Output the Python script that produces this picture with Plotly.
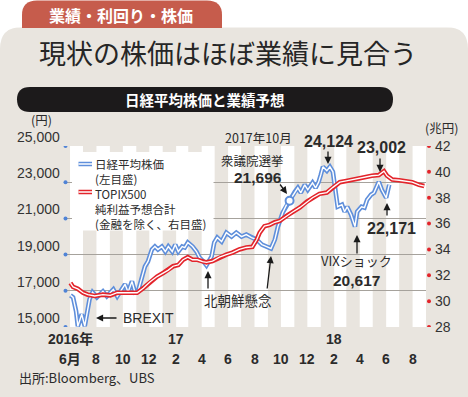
import plotly.graph_objects as go
import pandas as pd

# ---------------- data ----------------
nikkei_dates = [
    "2016-06-02", "2016-06-08", "2016-06-15", "2016-06-19", "2016-06-28", "2016-07-05",
    "2016-07-16", "2016-07-23", "2016-08-02", "2016-08-16", "2016-08-25", "2016-09-09",
    "2016-09-18", "2016-09-25", "2016-10-06", "2016-10-13", "2016-10-22", "2016-10-29",
    "2016-11-05", "2016-11-14", "2016-11-21", "2016-11-28", "2016-12-07", "2016-12-14",
    "2016-12-21", "2016-12-30", "2017-01-07", "2017-01-14", "2017-01-23", "2017-01-30",
    "2017-02-06", "2017-02-15", "2017-02-21", "2017-02-28", "2017-03-11", "2017-03-20",
    "2017-03-27", "2017-04-05", "2017-04-12", "2017-04-24", "2017-04-30", "2017-05-07",
    "2017-05-17", "2017-05-28", "2017-06-09", "2017-06-20", "2017-07-02", "2017-07-13",
    "2017-07-25", "2017-08-06", "2017-08-18", "2017-08-29", "2017-09-08", "2017-09-17",
    "2017-09-24", "2017-10-05", "2017-10-14", "2017-10-21", "2017-11-02", "2017-11-09",
    "2017-11-16", "2017-11-25", "2017-12-02", "2017-12-13", "2017-12-20", "2017-12-27",
    "2018-01-01", "2018-01-06", "2018-01-15", "2018-01-22", "2018-01-29", "2018-02-03",
    "2018-02-07", "2018-02-09", "2018-02-19", "2018-02-25", "2018-03-03", "2018-03-12",
    "2018-03-21", "2018-03-26", "2018-04-05", "2018-04-12", "2018-04-18", "2018-04-27",
    "2018-05-04", "2018-05-15", "2018-05-22", "2018-06-01", "2018-06-08",
]
nikkei_vals = [
    16750, 16640, 15870, 15045, 15705, 15045,
    16530, 16915, 16640, 16970, 16695, 17080,
    16695, 16970, 17355, 16915, 17520, 16915,
    16970, 17740, 18345, 18620, 19280, 19445,
    19280, 19445, 19170, 19445, 19170, 19555,
    19170, 19445, 19390, 19665, 19445, 19170,
    18840, 18620, 18400, 18895, 19665, 19940,
    19720, 20215, 19995, 20215, 19995, 20105,
    19940, 19830, 19555, 19445, 19335, 19830,
    20545, 21315, 21755, 21975, 22470, 22690,
    22415, 22855, 22580, 22965, 22690, 23000,
    23400, 23850, 23630, 23850, 23575, 22745,
    22140, 21645, 21755, 21370, 21645, 21205,
    20545, 21370, 21645, 21590, 22030, 22305,
    22415, 23020, 22580, 22140, 22855,
]

profit_dates = [
    "2016-06-02", "2016-06-08", "2016-06-19", "2016-07-01", "2016-07-12", "2016-07-28",
    "2016-08-16", "2016-09-02", "2016-09-18", "2016-10-06", "2016-10-17", "2016-11-03",
    "2016-11-17", "2016-12-03", "2016-12-19", "2017-01-03", "2017-01-14", "2017-01-25",
    "2017-02-06", "2017-02-17", "2017-02-28", "2017-03-11", "2017-03-22", "2017-04-03",
    "2017-04-12", "2017-04-26", "2017-05-12", "2017-05-28", "2017-06-11", "2017-06-27",
    "2017-07-13", "2017-07-27", "2017-08-06", "2017-08-13", "2017-08-24", "2017-09-05",
    "2017-09-17", "2017-09-28", "2017-10-14", "2017-10-28", "2017-11-14", "2017-11-30",
    "2017-12-13", "2017-12-29", "2018-01-15", "2018-01-29", "2018-02-14", "2018-03-01",
    "2018-03-14", "2018-03-30", "2018-04-16", "2018-04-29", "2018-05-15", "2018-05-27",
    "2018-06-03", "2018-06-15", "2018-07-01", "2018-07-17", "2018-07-31", "2018-08-16",
    "2018-08-28",
]
profit_vals = [
    31.4, 31.1, 30.95, 30.65, 30.5, 30.4,
    30.5, 30.45, 30.65, 30.65, 30.7, 30.65,
    31.0, 31.5, 31.9, 32.2, 32.4, 32.7,
    32.8, 33.2, 33.4, 33.2, 33.2, 33.05,
    33.0, 33.1, 33.4, 33.6, 33.75, 34.0,
    34.15, 34.2, 34.75, 35.3, 35.8, 35.9,
    36.1, 36.2, 36.6, 36.9, 37.25, 37.7,
    38.0, 38.3, 38.4, 38.8, 39.2, 39.3,
    39.4, 39.5, 39.6, 39.7, 39.75, 40.05,
    39.7, 39.4, 39.35, 39.3, 39.2, 39.0,
    38.9,
]

election_date = "2017-10-21"
election_val = 21975

left_ticks = [15000, 17000, 19000, 21000, 23000, 25000]
left_labels = ["15,000", "17,000", "19,000", "21,000", "23,000", "25,000"]
right_ticks = [28, 30, 32, 34, 36, 38, 40, 42]
month_ticks = ["2016-06-01", "2016-08-01", "2016-10-01", "2016-12-01", "2017-02-01",
               "2017-04-01", "2017-06-01", "2017-08-01", "2017-10-01", "2017-12-01",
               "2018-02-01", "2018-04-01", "2018-06-01", "2018-08-01"]
month_labels = ["6月", "8", "10", "12", "2", "4", "6", "8", "10", "12", "2", "4", "6", "8"]
year_ticks = ["2016-06-01", "2017-02-01", "2018-02-01"]
year_labels = ["2016年", "17", "18"]

# ---------------- styling ----------------
W, H = 468, 397
ML, MR, MT, MB = 67, 42, 146, 70
PW = W - ML - MR
PH = H - MT - MB


def X(px):
    return (px - ML) / PW


def Y(py):
    return (H - MB - py) / PH


CARD = "#e9e5df"
BLUE = "#5f8fdb"
RED = "#e3242b"
TAB = "#c65c4c"
TXT = "#2b2b2b"
JP = "Noto Sans CJK JP"
NUM = "Liberation Sans Narrow, Liberation Sans, Noto Sans CJK JP"
NUMR = "Liberation Sans, Noto Sans CJK JP"

fig = go.Figure()

# lines (double stroke: coloured outer, white core)
fig.add_trace(go.Scatter(x=profit_dates, y=profit_vals, yaxis="y2", mode="lines",
                         line=dict(color=RED, width=4.6), hoverinfo="skip"))
fig.add_trace(go.Scatter(x=profit_dates, y=profit_vals, yaxis="y2", mode="lines",
                         line=dict(color="white", width=1.3), hoverinfo="skip"))
fig.add_trace(go.Scatter(x=nikkei_dates, y=nikkei_vals, mode="lines",
                         line=dict(color=BLUE, width=4.6), hoverinfo="skip"))
fig.add_trace(go.Scatter(x=nikkei_dates, y=nikkei_vals, mode="lines",
                         line=dict(color="white", width=1.4), hoverinfo="skip"))
fig.add_trace(go.Scatter(x=[election_date], y=[election_val], mode="markers",
                         marker=dict(size=8, color="white", line=dict(color=BLUE, width=2)),
                         hoverinfo="skip"))

shapes = []
# white top band, tab, rounded card corners
shapes.append(dict(type="rect", xref="paper", yref="paper", x0=X(0), x1=X(W), y0=Y(27.5), y1=Y(0),
                   fillcolor="white", line_width=0, layer="below"))
shapes.append(dict(type="path", xref="paper", yref="paper", layer="below", fillcolor=TAB, line_width=0,
                   path=f"M {X(22)},{Y(28)} L {X(22)},{Y(15)} Q {X(22)},{Y(0.5)} {X(37)},{Y(0.5)} "
                        f"L {X(207)},{Y(0.5)} Q {X(222)},{Y(0.5)} {X(222)},{Y(15)} L {X(222)},{Y(28)} Z"))
shapes.append(dict(type="path", xref="paper", yref="paper", layer="below", fillcolor="white", line_width=0,
                   path=f"M {X(0)},{Y(27)} L {X(22)},{Y(27)} Q {X(0)},{Y(27)} {X(0)},{Y(49)} Z"))
shapes.append(dict(type="path", xref="paper", yref="paper", layer="below", fillcolor="white", line_width=0,
                   path=f"M {X(468)},{Y(27)} L {X(446)},{Y(27)} Q {X(468)},{Y(27)} {X(468)},{Y(49)} Z"))
# black pill
shapes.append(dict(type="path", xref="paper", yref="paper", layer="below", fillcolor="#1c1a1b", line_width=0,
                   path=f"M {X(30)},{Y(87)} L {X(380)},{Y(87)} Q {X(393)},{Y(87)} {X(393)},{Y(99.5)} "
                        f"Q {X(393)},{Y(112)} {X(380)},{Y(112)} L {X(30)},{Y(112)} "
                        f"Q {X(17)},{Y(112)} {X(17)},{Y(99.5)} Q {X(17)},{Y(87)} {X(30)},{Y(87)} Z"))

# white month stripes (even months)
for d in month_ticks:
    start = pd.Timestamp(d)
    end = start + pd.DateOffset(months=1)
    shapes.append(dict(type="rect", xref="x", yref="y", x0=start, x1=end,
                       y0=left_ticks[0], y1=left_ticks[-1], fillcolor="white",
                       line_width=0, layer="below"))

# axis dots
for v in left_ticks:
    shapes.append(dict(type="circle", xref="paper", yref="y", xsizemode="pixel", ysizemode="pixel",
                       xanchor=X(65.5), yanchor=v, x0=-2, x1=2, y0=-2, y1=2,
                       fillcolor="#4f83d6", line_width=0, layer="above"))
for v in right_ticks:
    shapes.append(dict(type="circle", xref="paper", yref="y2", xsizemode="pixel", ysizemode="pixel",
                       xanchor=X(429), yanchor=v, x0=-2, x1=2, y0=-2, y1=2,
                       fillcolor=RED, line_width=0, layer="above"))

# white legend box (above grid)
shapes.append(dict(type="rect", xref="paper", yref="paper", x0=X(72), x1=X(212), y0=Y(229), y1=Y(152),
                   fillcolor="#ffffff", line=dict(width=0, color="#ffffff"), layer="above", opacity=1))

ann = []


def txt(x, y, s, size, family=JP, color=TXT, anchor="center", bold=False, yanchor="middle", align="center"):
    if bold:
        s = f"<b>{s}</b>"
    ann.append(dict(x=X(x), y=Y(y), xref="paper", yref="paper", text=s, showarrow=False,
                    xanchor=anchor, yanchor=yanchor, align=align,
                    font=dict(size=size, family=family, color=color)))


def arrow(tx, ty, fx, fy, color="#1a1a1a", width=1.3, head=2):
    ann.append(dict(x=X(tx), y=Y(ty), xref="paper", yref="paper", text="", showarrow=True,
                    ax=fx - tx, ay=fy - ty, axref="pixel", ayref="pixel", standoff=0, startstandoff=0,
                    arrowhead=head, arrowsize=1.1, arrowwidth=width, arrowcolor=color))


# legend box background, swatches, then text
ann.append(dict(x=X(72), y=Y(152), xref="paper", yref="paper", text=" ", showarrow=False,
                xanchor="left", yanchor="top", width=140, height=77, borderpad=0,
                bgcolor="white", font=dict(size=10)))
for yy, col in [(164, BLUE), (192, RED)]:
    arrow(92, yy, 77, yy, color=col, width=4.6, head=0)
    arrow(92, yy, 77, yy, color="white", width=1.3, head=0)
ann.append(dict(x=X(93), y=Y(154), xref="paper", yref="paper",
                text="日経平均株価<br>(左目盛)<br>TOPIX500<br>純利益予想合計<br>(金融を除く、右目盛)",
                showarrow=False, xanchor="left", yanchor="top", align="left",
                font=dict(size=11.5, family=JP, color=TXT)))

# header texts
txt(121, 15, "業績・利回り・株価", 16, color="white", bold=True)
txt(228, 52, "現状の株価はほぼ業績に見合う", 27, color="#262626")
txt(205, 99.5, "日経平均株価と業績予想", 14.5, color="white", bold=True)
txt(41, 130.5, "(円)", 12.5, yanchor="bottom")
txt(441, 138.5, "(兆円)", 12.5, yanchor="bottom")
txt(17, 377, "出所:Bloomberg、UBS", 13, anchor="left")

# left tick labels
for v, lab in zip(left_ticks, left_labels):
    ann.append(dict(x=X(62), y=v, xref="paper", yref="y", text=lab, showarrow=False,
                    xanchor="right", yanchor="bottom", yshift=-1,
                    font=dict(size=14, family=NUMR, color="#333333")))

# x tick labels
for d, lab in zip(month_ticks, month_labels):
    ann.append(dict(x=d, y=Y(348.5), xref="x", yref="paper", text=f"<b>{lab}</b>", showarrow=False,
                    xanchor="center", yanchor="top", font=dict(size=14, family=NUM, color=TXT)))
for d, lab in zip(year_ticks, year_labels):
    ann.append(dict(x=d, y=Y(348.5), xref="x", yref="paper", text=f"<b>{lab}</b>", showarrow=False,
                    xanchor="center", yanchor="bottom", font=dict(size=14, family=NUM, color=TXT)))

# event annotations
txt(258, 149, "2017年10月", 12.5, yanchor="bottom")
txt(252, 148.5, "衆議院選挙", 12.5, yanchor="top")
txt(258, 166.5, "21,696", 15.5, family=NUM, bold=True, yanchor="top")
arrow(287, 194, 279, 183)
txt(328, 141, "24,124", 16, family=NUM, bold=True)
arrow(328, 164, 328, 150)
txt(381, 147, "23,002", 16, family=NUM, bold=True)
arrow(380, 172, 380, 157)
txt(391, 228, "22,171", 16, family=NUM, bold=True)
arrow(387, 203, 387, 217)
txt(356, 271.5, "VIXショック", 13, yanchor="bottom")
txt(356, 269.5, "20,617", 15.5, family=NUM, bold=True, yanchor="top")
arrow(357, 235, 357, 255)
txt(238, 300, "北朝鮮懸念", 13.5)
arrow(208, 271, 208, 290)
arrow(271, 256, 267, 290)
txt(121, 318, "BREXIT", 14, family=NUMR, anchor="left")
arrow(96, 318, 118, 318)

fig.update_layout(
    width=W, height=H, autosize=False,
    margin=dict(l=ML, r=MR, t=MT, b=MB, pad=0),
    paper_bgcolor=CARD, plot_bgcolor=CARD,
    showlegend=False,
    shapes=shapes, annotations=ann,
    xaxis=dict(type="date", range=["2016-05-25", "2018-09-01"], showgrid=False,
               showticklabels=False, zeroline=False, showline=False, ticks=""),
    yaxis=dict(range=[15000, 25000], tickvals=left_ticks, showgrid=True,
               gridcolor="#a6a29c", gridwidth=1, showticklabels=False, zeroline=False,
               showline=False, ticks=""),
    yaxis2=dict(range=[28, 42], overlaying="y", side="right", tickvals=right_ticks,
                showgrid=False, zeroline=False, showline=False, ticks="",
                ticklabelstandoff=8,
                tickfont=dict(size=14, family=NUMR, color="#333333")),
)

fig.write_html("out.html", config={"displayModeBar": False},
               post_script="document.body.style.margin='0px';document.body.style.overflow='hidden';")
